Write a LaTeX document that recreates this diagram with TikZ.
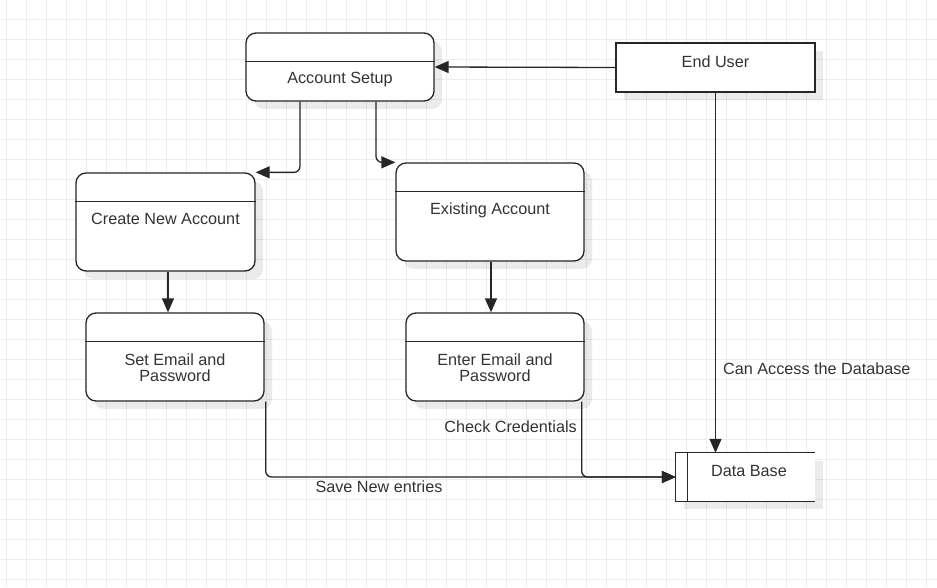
\documentclass[tikz,border=0pt]{standalone}
\usepackage{fontspec}
\setmainfont{Liberation Sans}
\usetikzlibrary{positioning,calc,arrows.meta,shadows}

\tikzset{
    gridline/.style={draw=black!7, line width=0.8pt},
    boxline/.style={draw=black!85, line width=1.3pt},
    statebox/.style={boxline, rounded corners=10pt, fill=white, inner sep=0pt,
        drop shadow={shadow xshift=8pt, shadow yshift=-8pt, fill=black, opacity=0.08}},
    userbox/.style={boxline, fill=white, inner sep=0pt,
        drop shadow={shadow xshift=8pt, shadow yshift=-8pt, fill=black, opacity=0.08}},
    storebox/.style={fill=white, inner sep=0pt,
        drop shadow={shadow xshift=8pt, shadow yshift=-8pt, fill=black, opacity=0.08}},
    txt/.style={text=black!80, inner sep=0pt, align=center},
    flow/.style={boxline, rounded corners=6pt, -{Triangle[length=14pt,width=12pt]}}
}

\begin{document}
\begin{tikzpicture}[x=1pt, y=-1pt, font=\fontsize{16.2}{16.5}\selectfont]

        \useasboundingbox (0,0) rectangle (937,587);
        \path[fill=white] (0,0) rectangle (937,587);

        \foreach \gx in {0,...,46}
            \path[gridline] ({6.3+20*\gx},0) -- ({6.3+20*\gx},587);
        \foreach \gy in {0,...,28}
            \path[gridline] (0,{19.3+20*\gy}) -- (937,{19.3+20*\gy});

        \node[statebox, minimum width=188, minimum height=68] (acct) at (340,67) {};
        \node[userbox, minimum width=199, minimum height=49] (user) at (715.5,67.5) {};
        \node[statebox, minimum width=179, minimum height=98] (create) at (165.5,222) {};
        \node[statebox, minimum width=188, minimum height=98] (exist) at (490,212) {};
        \node[statebox, minimum width=178, minimum height=88] (setmail) at (175,357) {};
        \node[statebox, minimum width=178, minimum height=88] (enter) at (495,357) {};
        \node[storebox, minimum width=139, minimum height=48] (db) at (745.5,477) {};

        % header lines
        \foreach \b in {acct,create,exist,setmail,enter}
            \path[boxline] ($(\b.north west)+(0,29)$) -- ($(\b.north east)+(0,29)$);

        % data store, open on the right
        \path[boxline] (db.north east) -- (db.north west) -- (db.south west) -- (db.south east);
        \path[boxline] ($(db.north west)+(12,0)$) -- ($(db.south west)+(12,0)$);

        \node[txt] (acctTxt) at (340,80) {Account Setup};
        \node[txt] (userTxt) at (715.5,62) {End User};
        \node[txt] (createTxt) at (165.5,219) {Create New Account};
        \node[txt] (existTxt) at (490,210) {Existing Account};
        \node[txt] (setmailTxt) at (175,367.5) {Set Email and\\Password};
        \node[txt] (enterTxt) at (495,367.5) {Enter Email and\\Password};
        \node[txt] (dbTxt) at (749,471) {Data Base};

        \path[flow] (user.west) -- (acct.east);
        \path[flow] ($(acct.south)+(-40,0)$) |- (create.north east);
        \path[flow] ($(acct.south)+(36,0)$) |- (exist.north west);
        \path[flow] ($(create.south)+(2.5,0)$) -- ($(setmail.north)+(-7,0)$);
        \path[flow] ($(exist.south)+(1,0)$) -- ($(enter.north)+(-4,0)$);
        \path[flow] (user.south) -- (user.south |- db.north);
        \path[flow] ($(setmail.south east)+(1,0)$) |- (db.west);
        \path[flow] ($(enter.south east)+(-3,0)$) |- (db.west);

        \node[txt, anchor=west] (accessLbl) at (723,369) {Can Access the Database};
        \node[txt, anchor=east] (checkLbl) at (577,427) {Check Credentials};
        \node[txt] (saveLbl) at (379,487) {Save New entries};

    \end{tikzpicture}
\end{document}
